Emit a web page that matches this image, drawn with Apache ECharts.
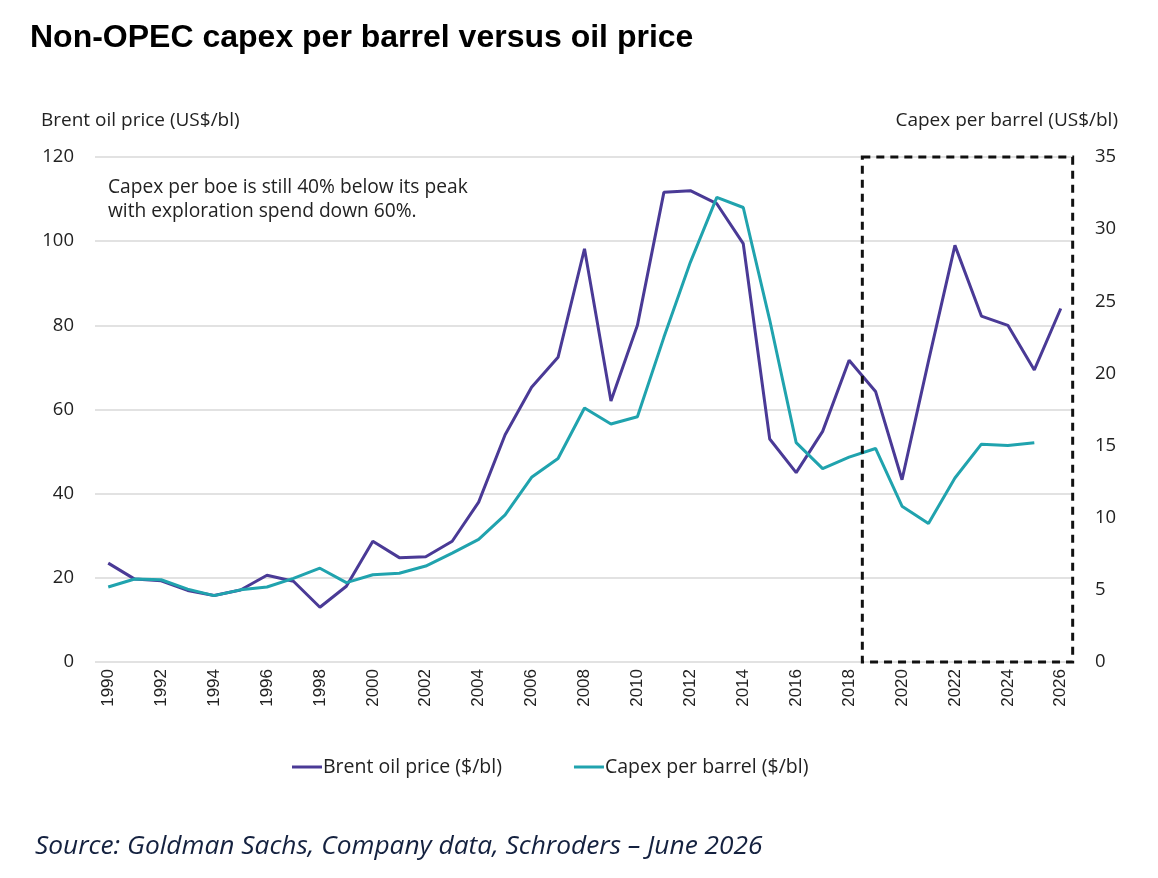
<!DOCTYPE html>
<html>
<head>
<meta charset="utf-8">
<script src="https://cdn.jsdelivr.net/npm/echarts@6/dist/echarts.min.js"></script>
<style>
  html, body { margin: 0; padding: 0; background: #fff; }
  #chart { width: 1158px; height: 878px; }
</style>
</head>
<body>
<div id="chart"></div>
<script>
// years on the x axis
const years = [];
for (let y = 1990; y <= 2026; y++) years.push(String(y));

// Brent oil price, US$/bl (left axis)
const brent = [23.5, 19.7, 19.3, 17.0, 15.8, 17.1, 20.6, 19.2, 13.0, 18.0,
  28.7, 24.8, 25.0, 28.7, 38.0, 54.0, 65.3, 72.4, 98.2, 62.0,
  80.0, 111.6, 112.0, 108.9, 99.4, 53.0, 45.0, 54.8, 71.7, 64.3,
  43.3, 71.5, 99.0, 82.2, 80.0, 69.4, 84.0];

// capex per barrel, US$/bl (right axis)
const capex = [5.2, 5.75, 5.7, 5.05, 4.6, 5.0, 5.2, 5.8, 6.5, 5.5,
  6.05, 6.15, 6.65, 7.55, 8.5, 10.2, 12.8, 14.1, 17.6, 16.5,
  17.0, 22.5, 27.7, 32.2, 31.5, 23.7, 15.2, 13.4, 14.2, 14.8,
  10.8, 9.6, 12.75, 15.1, 15.0, 15.2, null];

const font = '"Open Sans", sans-serif';
const chart = echarts.init(document.getElementById('chart'));

const option = {
  animation: false,
  backgroundColor: '#fff',
  title: {
    text: 'Non-OPEC capex per barrel versus oil price',
    left: 25, top: 17,
    textStyle: { fontFamily: 'Liberation Sans, Arial, sans-serif', fontWeight: 'bold', fontSize: 32, color: '#000' }
  },
  legend: {
    bottom: 96, left: 287,
    itemWidth: 30, itemHeight: 3, itemGap: 72,
    icon: 'rect',
    textStyle: { fontFamily: font, fontSize: 19.5, color: '#222', padding: [0, 0, 0, -4] },
    data: ['Brent oil price ($/bl)', 'Capex per barrel ($/bl)']
  },
  grid: { left: 95, right: 84, top: 157, bottom: 216 },
  xAxis: {
    type: 'category',
    data: years,
    boundaryGap: true,
    axisLine: { show: false },
    axisTick: { show: false },
    axisLabel: {
      interval: 1, rotate: 90, margin: 7,
      fontFamily: 'Liberation Sans, Arial, sans-serif', fontSize: 17, color: '#222'
    }
  },
  yAxis: [
    {
      type: 'value', min: 0, max: 120, interval: 20,
      name: 'Brent oil price (US$/bl)',
      nameLocation: 'end', nameGap: 27,
      nameTextStyle: { fontFamily: font, fontSize: 19, color: '#222', align: 'left', padding: [0, 0, 0, -54] },
      axisLine: { show: false }, axisTick: { show: false },
      axisLabel: { fontFamily: font, fontSize: 18.5, color: '#222', margin: 21 },
      splitLine: { lineStyle: { color: '#d9d9d9', width: 1.5 } }
    },
    {
      type: 'value', min: 0, max: 35, interval: 5,
      name: 'Capex per barrel (US$/bl)',
      nameLocation: 'end', nameGap: 27,
      nameTextStyle: { fontFamily: font, fontSize: 19, color: '#222', align: 'right', padding: [0, -44, 0, 0] },
      axisLine: { show: false }, axisTick: { show: false },
      axisLabel: { fontFamily: font, fontSize: 18.5, color: '#222', margin: 21 },
      splitLine: { show: false }
    }
  ],
  series: [
    {
      name: 'Brent oil price ($/bl)', type: 'line', yAxisIndex: 0,
      data: brent, symbol: 'none', color: '#4a3a96',
      lineStyle: { width: 3, color: '#4a3a96' }
    },
    {
      name: 'Capex per barrel ($/bl)', type: 'line', yAxisIndex: 1,
      data: capex, symbol: 'none', color: '#20a3ae',
      lineStyle: { width: 3, color: '#20a3ae' }
    }
  ],
  graphic: [
    {
      id: 'note', type: 'text', left: 108, top: 176,
      style: {
        text: 'Capex per boe is still 40% below its peak\nwith exploration spend down 60%.',
        font: '19.2px "Open Sans", sans-serif', fill: '#222', lineHeight: 24
      }
    },
    {
      id: 'source', type: 'text', left: 35, top: 834,
      style: {
        text: 'Source: Goldman Sachs, Company data, Schroders \u2013 June 2026',
        font: 'italic 26.3px "Open Sans", sans-serif', fill: '#14213f'
      }
    }
  ]
};
chart.setOption(option);

// dashed box around the forecast window, placed through the axis scales
const x18 = chart.convertToPixel({ xAxisIndex: 0 }, '2018');
const x19 = chart.convertToPixel({ xAxisIndex: 0 }, '2019');
const x26 = chart.convertToPixel({ xAxisIndex: 0 }, '2026');
const yTop = chart.convertToPixel({ yAxisIndex: 0 }, 120);
const yBot = chart.convertToPixel({ yAxisIndex: 0 }, 0);
const left = (x18 + x19) / 2;
const right = x26 + (x19 - x18) * 0.45;
chart.setOption({
  graphic: [{
    id: 'box', type: 'rect', z: 10,
    shape: { x: left, y: yTop, width: right - left, height: yBot - yTop },
    style: { fill: 'none', stroke: '#111', lineWidth: 3, lineDash: [8, 6] }
  }]
});
</script>
</body>
</html>
